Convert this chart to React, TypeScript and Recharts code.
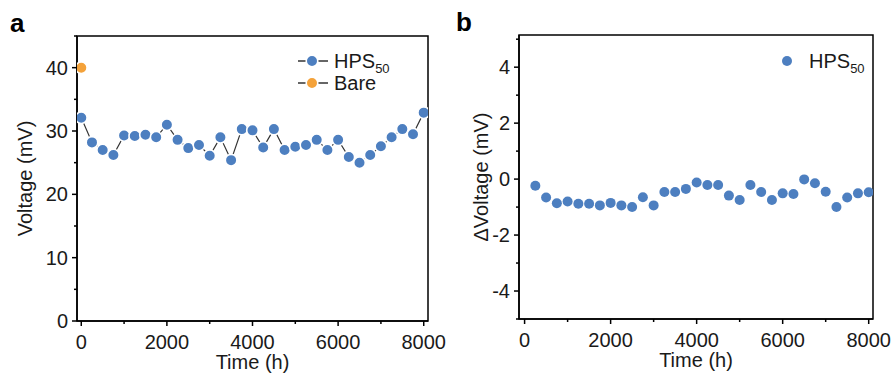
import React from 'react';
import {
  ComposedChart,
  ScatterChart,
  Line,
  Scatter,
  XAxis,
  YAxis,
  Label,
  Legend,
  ReferenceArea,
} from 'recharts';

// panel a: voltage vs time
const timeA = [
  0, 250, 500, 750, 1000, 1250, 1500, 1750, 2000, 2250, 2500, 2750, 3000, 3250, 3500, 3750,
  4000, 4250, 4500, 4750, 5000, 5250, 5500, 5750, 6000, 6250, 6500, 6750, 7000, 7250, 7500,
  7750, 8000,
];
const hpsVoltage = [
  32.1, 28.2, 27.0, 26.2, 29.3, 29.2, 29.4, 29.0, 31.0, 28.6, 27.3, 27.8, 26.1, 29.0, 25.4,
  30.3, 30.1, 27.4, 30.3, 27.0, 27.5, 27.8, 28.6, 27.0, 28.6, 25.9, 25.0, 26.2, 27.6, 29.0,
  30.3, 29.5, 32.9,
];
const bareTime = [0];
const bareVoltage = [40];

// panel b: delta voltage vs time
const timeB = [
  250, 500, 750, 1000, 1250, 1500, 1750, 2000, 2250, 2500, 2750, 3000, 3250, 3500, 3750, 4000,
  4250, 4500, 4750, 5000, 5250, 5500, 5750, 6000, 6250, 6500, 6750, 7000, 7250, 7500, 7750,
  8000,
];
const hpsDelta = [
  -0.24, -0.66, -0.86, -0.8, -0.88, -0.88, -0.94, -0.85, -0.94, -1.0, -0.65, -0.94, -0.46,
  -0.46, -0.35, -0.12, -0.21, -0.21, -0.59, -0.75, -0.21, -0.46, -0.75, -0.51, -0.53, -0.01,
  -0.15, -0.45, -1.0, -0.66, -0.51, -0.47,
];

const xTicks = [0, 1000, 2000, 3000, 4000, 5000, 6000, 7000, 8000];
const yTicksA = [0, 5, 10, 15, 20, 25, 30, 35, 40, 45];
const yTicksB = [-5, -4, -3, -2, -1, 0, 1, 2, 3, 4, 5];

const X_DOMAIN_A: [number, number] = [-100, 8100];
const X_DOMAIN_B: [number, number] = [-130, 8100];
const Y_DOMAIN_A: [number, number] = [0, 45];
const Y_DOMAIN_B: [number, number] = [-5, 5.15];

const dataA = timeA.map((t, i) => ({ t, v: hpsVoltage[i] }));
const dataBare = bareTime.map((t, i) => ({ t, v: bareVoltage[i] }));
const dataB = timeB.map((t, i) => ({ t, v: hpsDelta[i] }));

const BLUE = '#4d7fc0';
const ORANGE = '#f4a23a';
const INK = '#1a1a1a';
const FONT = '"Liberation Sans", Arial, sans-serif';
const FS = 20;

const XTick = ({ x, y, payload }: any) => {
  const major = payload.value % 2000 === 0;
  return (
    <g>
      <line x1={x} x2={x} y1={y} y2={y + (major ? 5 : 3)} stroke="#000" strokeWidth={1.5} />
      {major && (
        <text x={x} y={y + 28} textAnchor="middle" fontSize={FS} fill={INK} fontFamily={FONT}>
          {payload.value}
        </text>
      )}
    </g>
  );
};

// labelled every `step`, minor tick in between
const makeYTick = (step: number) => ({ x, y, payload }: any) => {
  const major = payload.value % step === 0 && Math.abs(payload.value) !== 5;
  return (
    <g>
      <line x1={x} x2={x - (major ? 5 : 3)} y1={y} y2={y} stroke="#000" strokeWidth={1.5} />
      {major && (
        <text x={x - 9} y={y + 7} textAnchor="end" fontSize={FS} fill={INK} fontFamily={FONT}>
          {payload.value}
        </text>
      )}
    </g>
  );
};

const YTickA = makeYTick(10);
const YTickB = makeYTick(2);

const HpsLabel = ({ x, y }: { x: number; y: number }) => (
  <text x={x} y={y} fontSize={FS} fill={INK} fontFamily={FONT}>
    HPS
    <tspan fontSize={13} dy={5}>
      50
    </tspan>
  </text>
);

const LegendA = () => (
  <svg width={110} height={50}>
    {[
      { name: 'HPS', color: BLUE },
      { name: 'Bare', color: ORANGE },
    ].map((s, i) => (
      <g key={s.name}>
        <line x1={2} x2={32} y1={11 + i * 22} y2={11 + i * 22} stroke="#333" strokeWidth={1.5} />
        <circle cx={16} cy={11 + i * 22} r={5.8} fill={s.color} stroke="#fff" strokeWidth={1.6} />
        {s.name === 'HPS' ? (
          <HpsLabel x={38} y={18} />
        ) : (
          <text x={38} y={40} fontSize={FS} fill={INK} fontFamily={FONT}>
            Bare
          </text>
        )}
      </g>
    ))}
  </svg>
);

const LegendB = () => (
  <svg width={100} height={30}>
    <circle cx={11} cy={11} r={5} fill={BLUE} />
    <HpsLabel x={33} y={18} />
  </svg>
);

const YTitle = ({ viewBox, text, cx }: any) => (
  <text
    x={cx}
    y={viewBox.y + viewBox.height / 2}
    transform={`rotate(-90 ${cx} ${viewBox.y + viewBox.height / 2})`}
    textAnchor="middle"
    dominantBaseline="central"
    fontSize={FS}
    fill={INK}
    fontFamily={FONT}
  >
    {text}
  </text>
);

const XTitle = ({ viewBox }: any) => (
  <text
    x={viewBox.x + viewBox.width / 2}
    y={viewBox.y + 48}
    textAnchor="middle"
    fontSize={FS}
    fill={INK}
    fontFamily={FONT}
  >
    Time (h)
  </text>
);

const axisLine = { stroke: '#000', strokeWidth: 1.5 };

const App = () => {
  return (
    <div
      style={{
        position: 'absolute',
        left: 0,
        top: 0,
        width: 893,
        height: 376,
        background: '#fff',
        fontFamily: FONT,
      }}
    >
      <div style={{ position: 'absolute', left: 10, top: 8, fontSize: 26, fontWeight: 700 }}>a</div>
      <div style={{ position: 'absolute', left: 456, top: 7, fontSize: 26, fontWeight: 700 }}>b</div>

      <div style={{ position: 'absolute', left: 0, top: 0 }}>
        <ComposedChart width={452} height={376} margin={{ top: 36, right: 24, bottom: 0, left: 0 }}>
          <XAxis
            dataKey="t"
            type="number"
            domain={X_DOMAIN_A}
            ticks={xTicks}
            interval={0}
            allowDataOverflow
            height={55}
            axisLine={axisLine}
            tickLine={false}
            tickSize={0}
            tickMargin={0}
            tick={<XTick />}
          >
            <Label content={<XTitle />} />
          </XAxis>
          <YAxis
            type="number"
            domain={Y_DOMAIN_A}
            ticks={yTicksA}
            interval={0}
            allowDataOverflow
            width={77}
            axisLine={axisLine}
            tickLine={false}
            tickSize={0}
            tickMargin={0}
            tick={<YTickA />}
          >
            <Label content={<YTitle text="Voltage (mV)" cx={25} />} />
          </YAxis>
          <ReferenceArea
            x1={X_DOMAIN_A[0]}
            x2={X_DOMAIN_A[1]}
            y1={Y_DOMAIN_A[0]}
            y2={Y_DOMAIN_A[1]}
            fill="none"
            stroke="#000"
            strokeWidth={1.5}
            ifOverflow="visible"
          />
          <Line
            data={dataA}
            dataKey="v"
            name="HPS50"
            stroke="#333"
            strokeWidth={1.2}
            dot={{ r: 5.8, fill: BLUE, stroke: '#fff', strokeWidth: 1.6 }}
            isAnimationActive={false}
          />
          <Line
            data={dataBare}
            dataKey="v"
            name="Bare"
            stroke="#333"
            strokeWidth={1.2}
            dot={{ r: 5.8, fill: ORANGE, stroke: '#fff', strokeWidth: 1.6 }}
            isAnimationActive={false}
          />
          <Legend
            layout="vertical"
            align="center"
            verticalAlign="middle"
            wrapperStyle={{ left: 296, top: 50, width: 110 }}
            content={<LegendA />}
          />
        </ComposedChart>
      </div>

      <div style={{ position: 'absolute', left: 440, top: 0 }}>
        <ScatterChart width={453} height={376} margin={{ top: 35, right: 20, bottom: 0, left: 0 }}>
          <XAxis
            dataKey="t"
            type="number"
            domain={X_DOMAIN_B}
            ticks={xTicks}
            interval={0}
            allowDataOverflow
            height={57}
            axisLine={axisLine}
            tickLine={false}
            tickSize={0}
            tickMargin={0}
            tick={<XTick />}
          >
            <Label content={<XTitle />} />
          </XAxis>
          <YAxis
            dataKey="v"
            type="number"
            domain={Y_DOMAIN_B}
            ticks={yTicksB}
            interval={0}
            allowDataOverflow
            width={79}
            axisLine={axisLine}
            tickLine={false}
            tickSize={0}
            tickMargin={0}
            tick={<YTickB />}
          >
            <Label content={<YTitle text="ΔVoltage (mV)" cx={41} />} />
          </YAxis>
          <ReferenceArea
            x1={X_DOMAIN_B[0]}
            x2={X_DOMAIN_B[1]}
            y1={Y_DOMAIN_B[0]}
            y2={Y_DOMAIN_B[1]}
            fill="none"
            stroke="#000"
            strokeWidth={1.5}
            ifOverflow="visible"
          />
          <Scatter
            data={dataB}
            name="HPS50"
            fill={BLUE}
            shape={(p: any) => <circle cx={p.cx} cy={p.cy} r={5} fill={BLUE} />}
            isAnimationActive={false}
          />
          <Legend
            layout="vertical"
            align="center"
            verticalAlign="middle"
            wrapperStyle={{ left: 336, top: 50, width: 100 }}
            content={<LegendB />}
          />
        </ScatterChart>
      </div>
    </div>
  );
};

export default App;
